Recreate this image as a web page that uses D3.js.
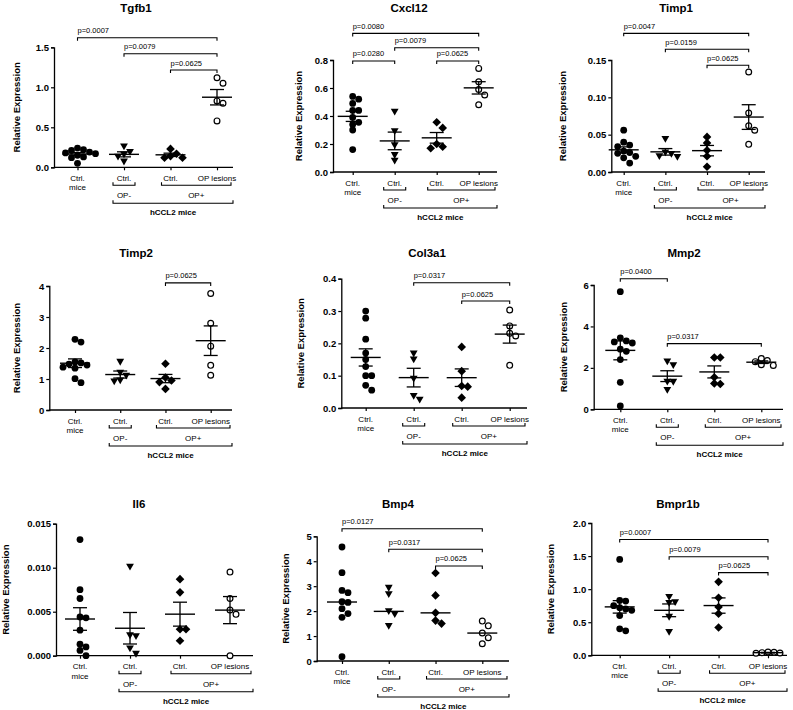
<!DOCTYPE html>
<html>
<head>
<meta charset="utf-8">
<script src="https://cdn.jsdelivr.net/npm/d3@7"></script>
<style>
body { margin: 0; background: #fff; }
svg { display: block; font-family: "Liberation Sans", Arial, sans-serif; }
</style>
</head>
<body>
<svg id="chart" width="793" height="710"></svg>
<script>
// groups, in x order
var groups = ["ctrl", "opMinus", "opPlus", "lesion"];
var tickLines = [["Ctrl.", "mice"], ["Ctrl."], ["Ctrl."], ["OP lesions"]];
var genes = ["Tgfb1", "Cxcl12", "Timp1", "Timp2", "Col3a1", "Mmp2", "Il6", "Bmp4", "Bmpr1b"];

// relative expression, one array per group
var tgfb1 = [
  [0.24, 0.22, 0.21, 0.19, 0.18, 0.17, 0.15, 0.13, 0.12, 0.05],
  [0.26, 0.19, 0.16, 0.13, 0.07],
  [0.23, 0.17, 0.14, 0.12, 0.12],
  [1.12, 1.05, 0.83, 0.80, 0.58]
];
var cxcl12 = [
  [0.54, 0.52, 0.49, 0.44, 0.44, 0.39, 0.355, 0.34, 0.30, 0.16],
  [0.43, 0.29, 0.19, 0.12, 0.08],
  [0.355, 0.315, 0.20, 0.18, 0.17],
  [0.74, 0.645, 0.59, 0.55, 0.48]
];
var timp1 = [
  [0.056, 0.040, 0.036, 0.034, 0.028, 0.026, 0.025, 0.021, 0.019, 0.012],
  [0.044, 0.026, 0.024, 0.021, 0.020],
  [0.047, 0.039, 0.029, 0.021, 0.007],
  [0.134, 0.079, 0.062, 0.056, 0.037]
];
var timp2 = [
  [2.28, 2.19, 1.55, 1.52, 1.48, 1.45, 1.38, 1.35, 1.01, 0.88],
  [1.55, 1.20, 1.10, 0.95, 0.92],
  [1.49, 1.05, 0.95, 0.90, 0.68],
  [3.76, 2.80, 2.06, 1.44, 1.12]
];
var col3a1 = [
  [0.30, 0.278, 0.213, 0.17, 0.15, 0.128, 0.10, 0.10, 0.07, 0.055],
  [0.168, 0.15, 0.09, 0.037, 0.025],
  [0.189, 0.114, 0.068, 0.066, 0.032],
  [0.303, 0.254, 0.231, 0.223, 0.132]
];
var mmp2 = [
  [5.68, 3.45, 3.30, 3.25, 3.20, 2.90, 2.80, 2.40, 1.30, 0.16],
  [2.30, 2.12, 1.33, 1.32, 0.93],
  [2.50, 2.50, 1.55, 1.25, 1.22],
  [2.45, 2.35, 2.30, 2.15, 2.12]
];
var il6 = [
  [0.0132, 0.0075, 0.0065, 0.0044, 0.0043, 0.0029, 0.0013, 0.0010, 0.0006, 0.0000],
  [0.0101, 0.0023, 0.0022, 0.0008, 0.0002],
  [0.0087, 0.0072, 0.0030, 0.0030, 0.0017],
  [0.0095, 0.0065, 0.0052, 0.0047, 0.0000]
];
var bmp4 = [
  [4.57, 3.54, 2.83, 2.74, 2.38, 2.35, 2.10, 1.90, 1.75, 0.17],
  [2.93, 2.67, 1.99, 1.87, 1.40],
  [3.53, 2.63, 1.93, 1.62, 1.50],
  [1.60, 1.41, 1.12, 0.93, 0.69]
];
var bmpr1b = [
  [1.45, 0.83, 0.82, 0.75, 0.72, 0.70, 0.68, 0.60, 0.40, 0.37],
  [0.88, 0.80, 0.79, 0.58, 0.35],
  [1.11, 0.87, 0.73, 0.63, 0.42],
  [0.05, 0.045, 0.04, 0.035, 0.03]
];

// comparisons: [from group, to group, label, bracket level in data units]
var tgfb1P = [[0, 3, "p=0.0007", 1.62], [1, 3, "p=0.0079", 1.42], [2, 3, "p=0.0625", 1.216]];
var cxcl12P = [[0, 3, "p=0.0080", 0.99], [1, 3, "p=0.0079", 0.888], [0, 1, "p=0.0280", 0.793], [2, 3, "p=0.0625", 0.793]];
var timp1P = [[0, 3, "p=0.0047", 0.1857], [1, 3, "p=0.0159", 0.1643], [2, 3, "p=0.0625", 0.1429]];
var timp2P = [[2, 3, "p=0.0625", 4.1]];
var col3a1P = [[1, 3, "p=0.0317", 0.3876], [2, 3, "p=0.0625", 0.331]];
var mmp2P = [[0, 1, "p=0.0400", 6.3], [1, 3, "p=0.0317", 3.17]];
var il6P = [];
var bmp4P = [[0, 3, "p=0.0127", 5.3], [1, 3, "p=0.0317", 4.48], [2, 3, "p=0.0625", 3.81]];
var bmpr1bP = [[0, 3, "p=0.0007", 1.75], [1, 3, "p=0.0079", 1.49], [2, 3, "p=0.0625", 1.25]];

var yTicks = [
  [0, 0.5, 1.0, 1.5], [0, 0.2, 0.4, 0.6, 0.8], [0, 0.05, 0.10, 0.15],
  [0, 1, 2, 3, 4], [0, 0.1, 0.2, 0.3, 0.4], [0, 2, 4, 6],
  [0, 0.005, 0.010, 0.015], [0, 1, 2, 3, 4, 5], [0, 0.5, 1.0, 1.5, 2.0]
];
var yFormats = [".1f", ".1f", ".2f", "d", ".1f", "d", ".3f", "d", ".1f"];
var centerStat = ["mean", "mean", "mean", "mean", "mean", "mean", "mean", "median", "mean"];

var allData = [tgfb1, cxcl12, timp1, timp2, col3a1, mmp2, il6, bmp4, bmpr1b];
var allP = [tgfb1P, cxcl12P, timp1P, timp2P, col3a1P, mmp2P, il6P, bmp4P, bmpr1bP];

// where each panel sits on the page (pixels)
var layout = [
  {ax: 54,    ar: 233, y0: 167.3, yt: 47.3,  c0: 77.5,  c3: 217,   lx: 17,  tx: 136, ty: 12},
  {ax: 333,   ar: 497, y0: 172,   yt: 60,    c0: 352.7, c3: 478.7, lx: 299, tx: 409, ty: 12},
  {ax: 611.3, ar: 765, y0: 172,   yt: 60,    c0: 623.7, c3: 748.7, lx: 563, tx: 676, ty: 12},
  {ax: 49.3,  ar: 232, y0: 410,   yt: 286,   c0: 75,    c3: 210.7, lx: 17,  tx: 136, ty: 257},
  {ax: 341.3, ar: 527, y0: 408,   yt: 278.7, c0: 365.7, c3: 509.7, lx: 301, tx: 427, ty: 257},
  {ax: 593.7, ar: 783, y0: 409.3, yt: 285,   c0: 620.3, c3: 761.3, lx: 564, tx: 684, ty: 257},
  {ax: 56,    ar: 253, y0: 655.7, yt: 523.7, c0: 80,    c3: 230,   lx: 6,   tx: 139, ty: 508},
  {ax: 316.7, ar: 509, y0: 661,   yt: 536.3, c0: 342,   c3: 482.3, lx: 286, tx: 398, ty: 508},
  {ax: 591.3, ar: 787, y0: 655.3, yt: 523,   c0: 619.7, c3: 768,   lx: 551, tx: 678, ty: 508}
];

var svg = d3.select("#chart");

// spread overlapping points sideways, like a column scatter
function swarm(vals, y, cx) {
  var step = 6, minDist = 5.6;
  var placed = [];
  vals.slice().sort(function(a, b) { return b - a; }).forEach(function(v) {
    var py = y(v), px = null;
    var offs = [0, step, -step, 2 * step, -2 * step, 3 * step, -3 * step];
    for (var k = 0; k < offs.length; k++) {
      var ok = placed.every(function(q) {
        return Math.hypot(q.x - (cx + offs[k]), q.y - py) >= minDist;
      });
      if (ok) { px = cx + offs[k]; break; }
    }
    if (px === null) px = cx;
    placed.push({x: px, y: py, v: v});
  });
  return placed;
}

function drawMarker(g, gi, x, y) {
  if (gi === 0) {
    g.append("circle").attr("cx", x).attr("cy", y).attr("r", 3.4).attr("fill", "#000");
  } else if (gi === 1) {
    g.append("path").attr("d", "M-3.9,-3.1L3.9,-3.1L0,3.7Z")
      .attr("transform", "translate(" + x + "," + y + ")").attr("fill", "#000");
  } else if (gi === 2) {
    g.append("path").attr("d", "M0,-4.3L4.3,0L0,4.3L-4.3,0Z")
      .attr("transform", "translate(" + x + "," + y + ")").attr("fill", "#000");
  } else {
    g.append("circle").attr("cx", x).attr("cy", y).attr("r", 2.9)
      .attr("fill", "#fff").attr("stroke", "#000").attr("stroke-width", 1.2);
  }
}

genes.forEach(function(gene, i) {
  var L = layout[i];
  var data = allData[i];
  var g = svg.append("g");

  var y = d3.scaleLinear().domain([0, d3.max(yTicks[i])]).range([L.y0, L.yt]);
  var x = d3.scalePoint().domain(groups).range([L.c0, L.c3]);

  // title
  g.append("text").attr("x", L.tx).attr("y", L.ty).attr("text-anchor", "middle")
    .attr("font-size", 11.5).attr("font-weight", "bold").text(gene);

  // y axis
  var yAxis = d3.axisLeft(y).tickValues(yTicks[i]).tickFormat(d3.format(yFormats[i]))
    .tickSizeOuter(0).tickSize(3).tickPadding(2);
  var ya = g.append("g").attr("transform", "translate(" + L.ax + ",0)").call(yAxis);
  ya.select(".domain").attr("stroke-width", 1.3);
  ya.selectAll(".tick line").attr("stroke-width", 1.2);
  ya.selectAll("text").attr("font-size", 9.5).attr("font-weight", "bold")
    .attr("font-family", "Liberation Sans, Arial, sans-serif").attr("fill", "#000");

  g.append("text")
    .attr("transform", "translate(" + L.lx + "," + ((L.y0 + L.yt) / 2) + ") rotate(-90)")
    .attr("text-anchor", "middle").attr("dy", "0.35em")
    .attr("font-size", 9.5).attr("font-weight", "bold").text("Relative Expression");

  // x axis
  g.append("line").attr("x1", L.ax).attr("x2", L.ar).attr("y1", L.y0).attr("y2", L.y0)
    .attr("stroke", "#000").attr("stroke-width", 1.3);
  var xAxis = d3.axisBottom(x).tickSize(3).tickSizeOuter(0).tickFormat("");
  var xa = g.append("g").attr("transform", "translate(0," + L.y0 + ")").call(xAxis);
  xa.select(".domain").remove();
  xa.selectAll(".tick line").attr("stroke-width", 1.2);

  groups.forEach(function(grp, gi) {
    tickLines[gi].forEach(function(t, li) {
      g.append("text").attr("x", x(grp)).attr("y", L.y0 + 13.5 + li * 9.5)
        .attr("text-anchor", "middle").attr("font-size", 8).text(t);
    });
  });

  // group brackets under the axis
  var b1 = L.y0 + 18, b2 = L.y0 + 36;
  var opm = x(groups[1]), opp = x(groups[2]);
  g.append("path").attr("d", "M" + (opm - 11) + "," + (b1 - 3) + "V" + b1 + "H" + (opm + 11) + "V" + (b1 - 3))
    .attr("fill", "none").attr("stroke", "#000").attr("stroke-width", 1.1);
  g.append("path").attr("d", "M" + (opp - 9) + "," + (b1 - 3) + "V" + b1 + "H" + (L.ar - 2) + "V" + (b1 - 3))
    .attr("fill", "none").attr("stroke", "#000").attr("stroke-width", 1.1);
  g.append("path").attr("d", "M" + (opm - 11) + "," + (b2 - 3) + "V" + b2 + "H" + L.ar + "V" + (b2 - 3))
    .attr("fill", "none").attr("stroke", "#000").attr("stroke-width", 1.1);
  g.append("text").attr("x", opm).attr("y", L.y0 + 31).attr("text-anchor", "middle")
    .attr("font-size", 8).text("OP-");
  g.append("text").attr("x", (opp - 9 + L.ar - 2) / 2).attr("y", L.y0 + 31).attr("text-anchor", "middle")
    .attr("font-size", 8).text("OP+");
  g.append("text").attr("x", (opm - 11 + L.ar) / 2).attr("y", L.y0 + 48).attr("text-anchor", "middle")
    .attr("font-size", 8).attr("font-weight", "bold").text("hCCL2 mice");

  // points
  data.forEach(function(vals, gi) {
    swarm(vals, y, x(groups[gi])).forEach(function(p) { drawMarker(g, gi, p.x, p.y); });
  });

  // centre line and error bars
  data.forEach(function(vals, gi) {
    var cx = x(groups[gi]);
    var c = centerStat[i] === "median" ? d3.median(vals) : d3.mean(vals);
    g.append("line").attr("x1", cx - 15).attr("x2", cx + 15).attr("y1", y(c)).attr("y2", y(c))
      .attr("stroke", "#000").attr("stroke-width", 1.4);
    if (centerStat[i] === "mean") {
      var sem = d3.deviation(vals) / Math.sqrt(vals.length);
      g.append("line").attr("x1", cx).attr("x2", cx).attr("y1", y(c - sem)).attr("y2", y(c + sem))
        .attr("stroke", "#000").attr("stroke-width", 1.3);
      [c - sem, c + sem].forEach(function(v) {
        g.append("line").attr("x1", cx - 7).attr("x2", cx + 7).attr("y1", y(v)).attr("y2", y(v))
          .attr("stroke", "#000").attr("stroke-width", 1.3);
      });
    }
  });

  // p-value brackets
  allP[i].forEach(function(p) {
    var x1 = x(groups[p[0]]), x2 = x(groups[p[1]]), by = y(p[3]);
    g.append("path").attr("d", "M" + x1 + "," + (by + 3) + "V" + by + "H" + x2 + "V" + (by + 3))
      .attr("fill", "none").attr("stroke", "#000").attr("stroke-width", 1.1);
    g.append("text").attr("x", x1).attr("y", by - 4.5).attr("font-size", 7.5).text(p[2]);
  });
});
</script>
</body>
</html>
